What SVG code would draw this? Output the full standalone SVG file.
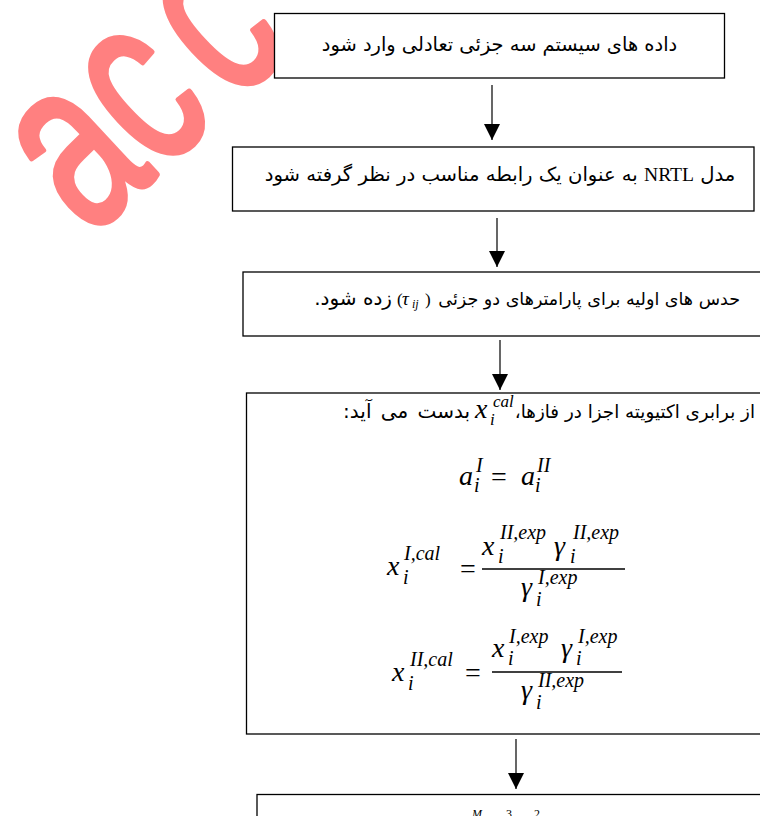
<svg xmlns="http://www.w3.org/2000/svg" width="760" height="816" viewBox="0 0 760 816">
<style>
.box{fill:#fff;stroke:#000;stroke-width:1.3}
.fa{font-family:'DejaVu Sans',sans-serif;font-size:19px;fill:#000}
.m{font-family:'Liberation Serif',serif;font-style:italic;fill:#000}
.mn{font-family:'Liberation Serif',serif;fill:#000}
.big{font-size:28px}
.sc{font-size:20px}
.conn line{stroke:#000;stroke-width:1.2;marker-end:url(#ah)}
.bar{stroke:#000;stroke-width:1.3}
</style>
<defs>
<marker id="ah" markerUnits="userSpaceOnUse" markerWidth="16" markerHeight="16" refX="16" refY="8" orient="auto" viewBox="0 0 16 16">
<path d="M0,0 L16,8 L0,16 z" fill="#000"/>
</marker>
</defs>
<text id="watermark" transform="translate(89.6,237.7) rotate(-43) scale(0.68,1)" font-family="'Liberation Sans',sans-serif" font-size="247" fill="#ff8080" stroke="#ff8080" stroke-width="6" stroke-linejoin="round"><tspan x="0">a</tspan><tspan x="138">c</tspan><tspan x="288">c</tspan></text>

<g id="n1">
<rect class="box" x="274.5" y="13.5" width="450" height="64.5"/>
<text class="fa" x="499.5" y="51" text-anchor="middle" direction="rtl" style="font-size:19.4px">داده های سیستم سه جزئی تعادلی وارد شود</text>
</g>
<g id="n2">
<rect class="box" x="232.5" y="147" width="521.5" height="64"/>
<text class="fa" x="500" y="181" text-anchor="middle" direction="rtl" style="font-size:19.6px">مدل <tspan font-family="'Liberation Serif',serif">NRTL</tspan> به عنوان یک رابطه مناسب در نظر گرفته شود</text>
</g>
<g id="n3">
<rect class="box" x="243" y="272" width="530" height="64"/>
<text class="fa" x="740" y="305" direction="rtl" text-anchor="start" style="font-size:17.5px">حدس های اولیه برای پارامترهای دو جزئی</text>
<text class="mn" font-size="17" y="305"><tspan x="397">(</tspan><tspan class="m" font-size="19" x="402">τ</tspan><tspan class="m" font-size="12" x="412" dy="3">ij</tspan><tspan x="425" dy="-3">)</tspan></text>
<text class="fa" x="392" y="305" direction="rtl" text-anchor="start" style="font-size:20px">زده شود.</text>
</g>
<g id="n4">
<rect class="box" x="246.5" y="393" width="530" height="341"/>
<text class="fa" x="755" y="418" direction="rtl" text-anchor="start" style="font-size:18.3px">از برابری اکتیویته اجزا در فازها،</text>
<text class="m big" x="475" y="418">x</text>
<text class="m" font-size="17" x="493" y="407">cal</text>
<text class="m" font-size="17" x="490" y="425">i</text>
<text class="fa" x="470" y="418" direction="rtl" text-anchor="start" style="font-size:20px;word-spacing:3px">بدست می آید:</text>

<text class="m big" x="459" y="485">a</text>
<text class="m sc" x="476" y="472">I</text>
<text class="m sc" x="474" y="492">i</text>
<text class="mn big" x="491" y="486">=</text>
<text class="m big" x="521" y="485">a</text>
<text class="m sc" x="537" y="472">II</text>
<text class="m sc" x="535" y="492">i</text>

<text class="m big" x="387" y="575">x</text>
<text class="m sc" x="404" y="560">I,cal</text>
<text class="m sc" x="403" y="584">i</text>
<text class="mn big" x="460" y="578">=</text>
<line class="bar" x1="482" y1="569" x2="625" y2="569"/>
<text class="m big" x="482" y="555">x</text>
<text class="m sc" x="500" y="539">II,exp</text>
<text class="m sc" x="498" y="563">i</text>
<text class="m big" x="554" y="555">γ</text>
<text class="m sc" x="573" y="539">II,exp</text>
<text class="m sc" x="570" y="563">i</text>
<text class="m big" x="521" y="596">γ</text>
<text class="m sc" x="538" y="584">I,exp</text>
<text class="m sc" x="536" y="606">i</text>

<text class="m big" x="392" y="681">x</text>
<text class="m sc" x="410" y="666">II,cal</text>
<text class="m sc" x="408" y="690">i</text>
<text class="mn big" x="465" y="682">=</text>
<line class="bar" x1="492" y1="672" x2="622" y2="672"/>
<text class="m big" x="492" y="657">x</text>
<text class="m sc" x="509" y="643">I,exp</text>
<text class="m sc" x="508" y="665">i</text>
<text class="m big" x="561" y="657">γ</text>
<text class="m sc" x="578" y="643">I,exp</text>
<text class="m sc" x="576" y="665">i</text>
<text class="m big" x="521" y="699">γ</text>
<text class="m sc" x="538" y="687">II,exp</text>
<text class="m sc" x="536" y="709">i</text>
</g>
<g id="n5">
<rect class="box" x="257" y="794.5" width="520" height="40"/>
<text class="m" font-size="12" x="472" y="818">M</text>
<text class="mn" font-size="12" x="506" y="818">3</text>
<text class="mn" font-size="12" x="534" y="818">2</text>
</g>
<g id="connectors" class="conn">
<line x1="492" y1="85" x2="492" y2="140"/>
<line x1="497" y1="218" x2="497" y2="267"/>
<line x1="500" y1="340" x2="500" y2="390"/>
<line x1="516" y1="739" x2="516" y2="789"/>
</g>
</svg>
